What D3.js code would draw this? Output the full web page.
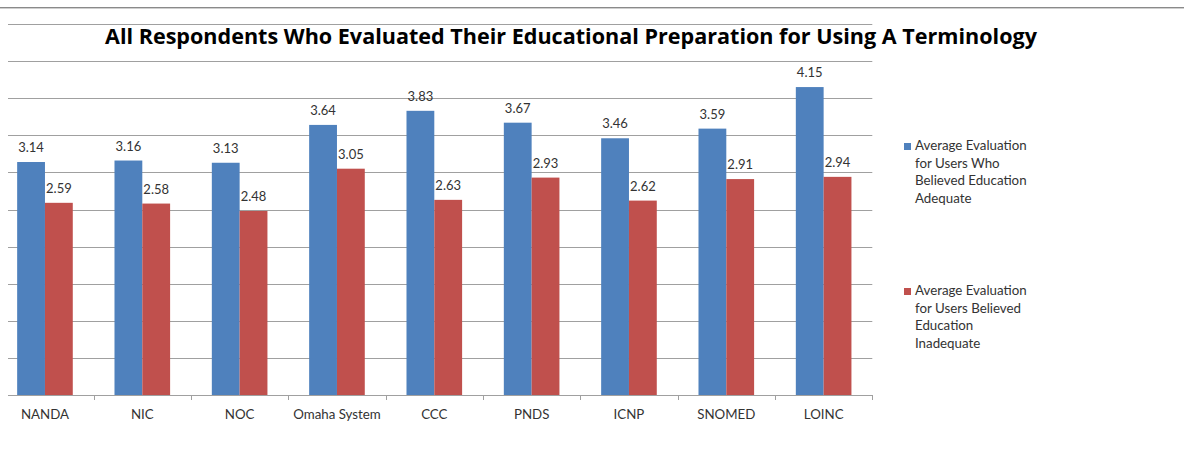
<!DOCTYPE html>
<html>
<head>
<meta charset="utf-8">
<script src="https://cdn.jsdelivr.net/npm/d3@7"></script>
<style>
  body { margin: 0; background: #fff; }
  svg { display: block; }
</style>
</head>
<body>
<script>
const categories = ["NANDA", "NIC", "NOC", "Omaha System", "CCC", "PNDS", "ICNP", "SNOMED", "LOINC"];
const adequate = [3.14, 3.16, 3.13, 3.64, 3.83, 3.67, 3.46, 3.59, 4.15];
const inadequate = [2.59, 2.58, 2.48, 3.05, 2.63, 2.93, 2.62, 2.91, 2.94];
const seriesNames = [
  ["Average Evaluation", "for Users Who", "Believed Education", "Adequate"],
  ["Average Evaluation", "for Users Believed", "Education", "Inadequate"],
];
const yTicks = d3.range(0, 5.01, 0.5);
const titleText = "All Respondents Who Evaluated Their Educational Preparation for Using A Terminology";

const width = 1184, height = 449;
const colors = ["#4F81BD", "#C0504D"];
const font = "Lato, 'Open Sans', sans-serif";
const textColor = "#333333";

const svg = d3.select("body").append("svg")
  .attr("width", width)
  .attr("height", height);

// outer border line at top
svg.append("line").attr("x1", 0).attr("x2", width).attr("y1", 7.5).attr("y2", 7.5)
  .attr("stroke", "#8a8a8a");
svg.append("line").attr("x1", 0).attr("x2", width).attr("y1", 8.5).attr("y2", 8.5)
  .attr("stroke", "#cfcfcf");

const x = d3.scaleBand().domain(categories).range([-3.7, 872.3]).padding(0);
const step = x.bandwidth();
const barW = step / 3.5;
const xs = d3.scaleBand().domain([0, 1]).range([step * 0.75 / 3.5, step - step * 0.75 / 3.5]);

const y = d3.scaleLinear().domain([0, 5]).range([395, 24]);

// gridlines
svg.append("g")
  .selectAll("line")
  .data(yTicks.filter((d) => d > 0))
  .join("line")
  .attr("x1", 8).attr("x2", 872.3)
  .attr("y1", (d) => Math.round(y(d)) + 0.5)
  .attr("y2", (d) => Math.round(y(d)) + 0.5)
  .attr("stroke", "#a0a0a0");

// category axis
const xAxis = svg.append("g")
  .attr("transform", `translate(0,${Math.round(y(0)) + 0.5})`)
  .call(d3.axisBottom(x).tickSize(0).tickPadding(14));
xAxis.select(".domain").attr("d", `M8,0H872.3`).attr("stroke", "#a0a0a0");
xAxis.selectAll("text")
  .attr("font-family", font)
  .attr("font-size", "13.3px")
  .attr("fill", textColor);
// tick marks between categories
svg.append("g")
  .selectAll("line")
  .data(categories)
  .join("line")
  .attr("x1", (d) => Math.round(x(d) + step) + 0.5)
  .attr("x2", (d) => Math.round(x(d) + step) + 0.5)
  .attr("y1", Math.round(y(0)))
  .attr("y2", Math.round(y(0)) + 5)
  .attr("stroke", "#a0a0a0");

const data = categories.map((c, i) => ({ name: c, values: [adequate[i], inadequate[i]] }));

const group = svg.append("g")
  .selectAll("g")
  .data(data)
  .join("g")
  .attr("transform", (d) => `translate(${x(d.name)},0)`);

group.selectAll("rect")
  .data((d) => d.values.map((v, k) => ({ v, k })))
  .join("rect")
  .attr("x", (d) => xs(d.k))
  .attr("width", barW)
  .attr("y", (d) => y(d.v))
  .attr("height", (d) => y(0) - y(d.v))
  .attr("fill", (d) => colors[d.k]);

group.selectAll("text")
  .data((d) => d.values.map((v, k) => ({ v, k })))
  .join("text")
  .attr("x", (d) => xs(d.k) + barW / 2)
  .attr("y", (d) => y(d.v) - 10)
  .attr("text-anchor", "middle")
  .attr("font-family", font)
  .attr("font-size", "13px")
  .attr("fill", textColor)
  .text((d) => d3.format(".2f")(d.v));

// title
svg.append("text")
  .attr("x", 571)
  .attr("y", 44)
  .attr("text-anchor", "middle")
  .attr("font-family", "'Open Sans', sans-serif")
  .attr("font-weight", "bold")
  .attr("font-size", "22px")
  .attr("textLength", 932)
  .attr("lengthAdjust", "spacingAndGlyphs")
  .attr("fill", "#000")
  .text(titleText);

// legend
const legendTop = [150, 295];
const legend = svg.append("g")
  .selectAll("g")
  .data(seriesNames)
  .join("g")
  .attr("transform", (d, i) => `translate(904,${legendTop[i]})`);

legend.append("rect")
  .attr("x", 0).attr("y", -7)
  .attr("width", 7).attr("height", 7)
  .attr("fill", (d, i) => colors[i]);

legend.append("text")
  .attr("font-family", font)
  .attr("font-size", "13.3px")
  .attr("fill", textColor)
  .selectAll("tspan")
  .data((d) => d)
  .join("tspan")
  .attr("x", 11)
  .attr("y", (d, i) => i * 17.5)
  .text((d) => d);
</script>
</body>
</html>
